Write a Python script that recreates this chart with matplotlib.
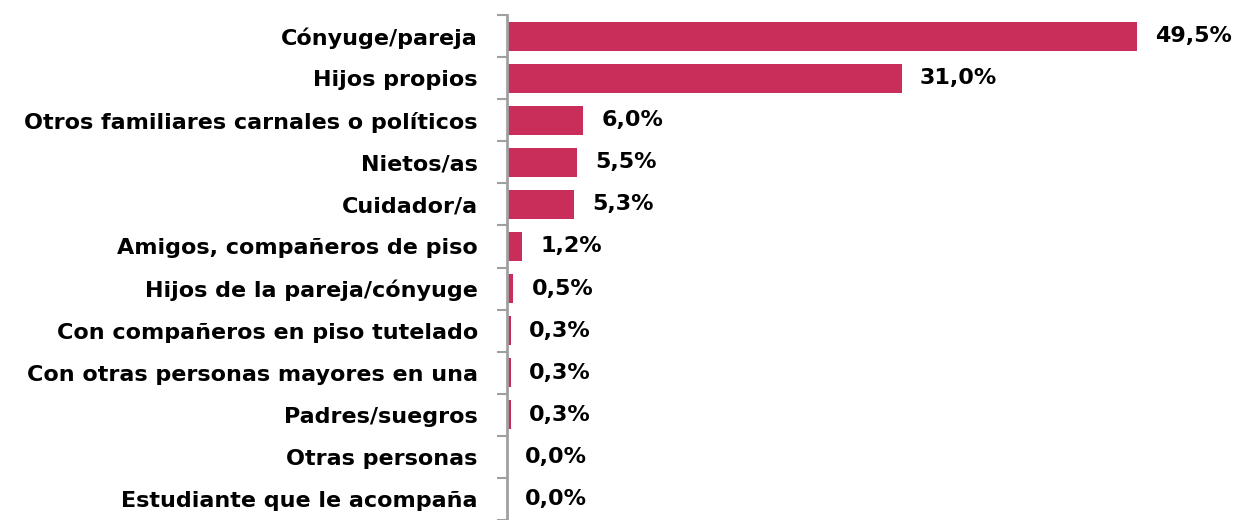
import matplotlib.pyplot as plt
import numpy as np

categorias = [
    "Cónyuge/pareja",
    "Hijos propios",
    "Otros familiares carnales o políticos",
    "Nietos/as",
    "Cuidador/a",
    "Amigos, compañeros de piso",
    "Hijos de la pareja/cónyuge",
    "Con compañeros en piso tutelado",
    "Con otras personas mayores en una",
    "Padres/suegros",
    "Otras personas",
    "Estudiante que le acompaña",
]
valores = [49.5, 31.0, 6.0, 5.5, 5.3, 1.2, 0.5, 0.3, 0.3, 0.3, 0.0, 0.0]

color_barra = "#C92D5A"
gris = "#A0A0A0"

fig = plt.figure(figsize=(12.35, 5.2), dpi=100)
ax = fig.add_axes([507 / 1235, 0.0, 1 - 507 / 1235, 505 / 520])

y = np.arange(len(categorias))
ax.barh(y, valores, height=0.69, color=color_barra)

ax.set_ylim(len(categorias) - 0.5, -0.5)
ax.set_xlim(0, (1235 - 507) / 12.73)

for yi, v in zip(y, valores):
    etiqueta = f"{v:.1f}%".replace(".", ",")
    ax.annotate(etiqueta, (v, yi), xytext=(13, 0), textcoords="offset points",
                ha="left", va="center", fontsize=16, fontweight="bold")

ax.set_yticks(y)
ax.set_yticklabels(categorias, fontsize=16, fontweight="bold")
ax.tick_params(axis="y", which="major", length=0, pad=21)
ax.set_yticks(np.arange(-0.5, len(categorias)), minor=True)
ax.tick_params(axis="y", which="minor", length=7, width=1.5, color=gris)
ax.set_xticks([])

for lado in ["top", "right", "bottom"]:
    ax.spines[lado].set_visible(False)
ax.spines["left"].set_color(gris)
ax.spines["left"].set_linewidth(2)

fig.savefig("out.png", dpi=100)
